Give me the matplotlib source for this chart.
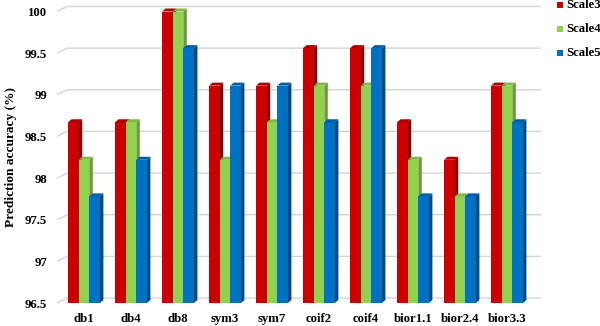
import matplotlib
matplotlib.use("Agg")
import matplotlib.pyplot as plt
from matplotlib.patches import Polygon, Rectangle
import numpy as np

categories = ["db1", "db4", "db8", "sym3", "sym7", "coif2", "coif4", "bior1.1", "bior2.4", "bior3.3"]
scale3 = [98.67, 98.67, 100.0, 99.11, 99.11, 99.56, 99.56, 98.67, 98.22, 99.11]
scale4 = [98.22, 98.67, 100.0, 98.22, 98.67, 99.11, 99.11, 98.22, 97.78, 99.11]
scale5 = [97.78, 98.22, 99.56, 99.11, 99.11, 98.67, 99.56, 97.78, 97.78, 98.67]
series_names = ["Scale3", "Scale4", "Scale5"]
yticks = [96.5, 97, 97.5, 98, 98.5, 99, 99.5, 100]

front_colors = ["#CC0000", "#92D050", "#0070C0"]
side_colors = ["#8A0000", "#6C9A38", "#004A88"]
top_colors = ["#A80000", "#7FB844", "#005CA6"]

W, H = 600, 326
fig = plt.figure(figsize=(W / 100, H / 100), dpi=100)
ax_left, ax_right = 57, 531
ax_top, ax_bot = 11.5, 303
ax = fig.add_axes([ax_left / W, (H - ax_bot) / H, (ax_right - ax_left) / W, (ax_bot - ax_top) / H])
ymin, ymax = 96.5, 100
px_per_x = 47.0
x0 = (ax_left - 84) / px_per_x
x1 = (ax_right - 84) / px_per_x
ax.set_xlim(x0, x1)
ax.set_ylim(ymin, ymax)
for s in ax.spines.values():
    s.set_visible(False)
ax.patch.set_alpha(0)

px_per_y = (ax_bot - ax_top) / (ymax - ymin)
# 3D offsets in data units
gdx, gdy = 10 / px_per_x, 5 / px_per_y       # back wall offset
bdx, bdy = 3.5 / px_per_x, 3.0 / px_per_y    # bar depth offset

# gridlines (floor/back wall)
for t in yticks:
    ax.plot([x0, x0 + gdx, x1 + gdx], [t, t + gdy, t + gdy], color="#D4D4D4",
            lw=1.0, clip_on=False, zorder=1, solid_capstyle="butt")

bw = 10.6 / px_per_x
xs = np.arange(len(categories))
series = [scale3, scale4, scale5]
for i in range(len(categories)):
    for j, vals in enumerate(series):
        v = vals[i]
        xl = xs[i] + (j - 1.5) * bw
        xr = xl + bw
        z = 3 + i * 0.01 + j * 0.001
        ax.add_patch(Polygon([(xl, ymin), (xr, ymin), (xr, v), (xl, v)], closed=True,
                             facecolor=front_colors[j], edgecolor="none", clip_on=False, zorder=z))
        ax.add_patch(Polygon([(xl, v), (xr, v), (xr + bdx, v + bdy), (xl + bdx, v + bdy)], closed=True,
                             facecolor=top_colors[j], edgecolor="none", clip_on=False, zorder=z))
        ax.add_patch(Polygon([(xr, ymin), (xr + bdx, ymin + bdy), (xr + bdx, v + bdy), (xr, v)], closed=True,
                             facecolor=side_colors[j], edgecolor="none", clip_on=False, zorder=z - 0.0005))

font = dict(family="Liberation Serif", weight="bold")
ax.set_yticks(yticks)
ax.set_yticklabels([("%g" % t) for t in yticks], fontsize=9.2, **font)
ax.set_xticks(xs)
ax.set_xticklabels(categories, fontsize=9.2, **font)
ax.tick_params(axis="both", length=0)
ax.tick_params(axis="y", pad=7)
ax.tick_params(axis="x", pad=7.5)
ax.set_ylabel("Prediction accuracy (%)", fontsize=9.6, labelpad=6, **font)

# legend
leg_y = [5, 29, 53]
for j, name in enumerate(series_names):
    yc = leg_y[j]
    fig.add_artist(Rectangle((557 / W, (H - yc - 3) / H), 6 / W, 6 / H, transform=fig.transFigure,
                             facecolor=front_colors[j], edgecolor="none"))
    fig.text(566 / W, (H - yc) / H, name, fontsize=9.2, va="center", ha="left", **font)

fig.savefig("out.png", dpi=100)
